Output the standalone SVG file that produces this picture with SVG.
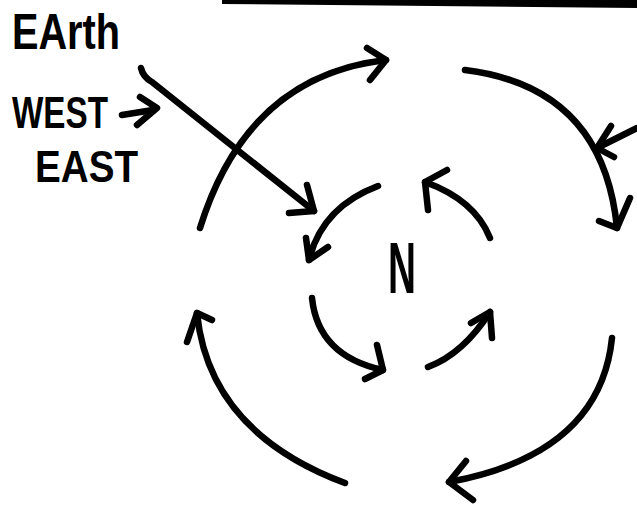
<svg xmlns="http://www.w3.org/2000/svg" width="637" height="508" viewBox="0 0 637 508">
<style>
.s{fill:none;stroke:#000;stroke-width:6.5;stroke-linecap:round;stroke-linejoin:round}
.t{font-family:"Liberation Sans",Arial,sans-serif;font-weight:bold;fill:#000}
</style>
<rect width="637" height="508" fill="#fff"/>
<polygon points="222,0 637,0 637,8 222,4" fill="#000"/>
<g id="labels">
<text class="t" x="12" y="49" font-size="50" textLength="108" lengthAdjust="spacingAndGlyphs">EArth</text>
<text class="t" x="12" y="128" font-size="44" textLength="96" lengthAdjust="spacingAndGlyphs">WEST</text>
<text class="t" x="35" y="182" font-size="44" textLength="103" lengthAdjust="spacingAndGlyphs">EAST</text>
<text class="t" x="388" y="293" font-size="72" textLength="28" lengthAdjust="spacingAndGlyphs">N</text>
</g>
<g id="connectors">
<path class="s" d="M122,115 L153,110"/>
<polyline class="s" points="140,97 157,108 137,125"/>
<path class="s" d="M141,68 Q143,77 152,82 L314,211"/>
<polyline class="s" points="289,213 314,211 307,185"/>
<path class="s" d="M200,228 Q247,76 386,60"/>
<polyline class="s" points="367,48 386,60 370,80"/>
<path class="s" d="M465,70 Q603,87 617,228"/>
<polyline class="s" points="599,221 617,228 630,198"/>
<path class="s" d="M637,128 L597,148"/>
<polyline class="s" points="611,126 597,148 614,157"/>
<path class="s" d="M612,338 Q600,454 449,482"/>
<polyline class="s" points="466,461 449,482 473,500"/>
<path class="s" d="M345,483 Q209,432 197,313"/>
<polyline class="s" points="187,342 197,313 212,320"/>
<path class="s" d="M378,186 Q322,207 309,260"/>
<polyline class="s" points="306,238 309,260 328,247"/>
<path class="s" d="M490,238 Q475,200 425,182"/>
<polyline class="s" points="447,170 425,182 428,210"/>
<path class="s" d="M312,298 Q318,356 383,370"/>
<polyline class="s" points="377,345 383,370 365,379"/>
<path class="s" d="M428,367 Q463,354 490,312"/>
<polyline class="s" points="471,323 490,312 492,338"/>
</g>
</svg>
